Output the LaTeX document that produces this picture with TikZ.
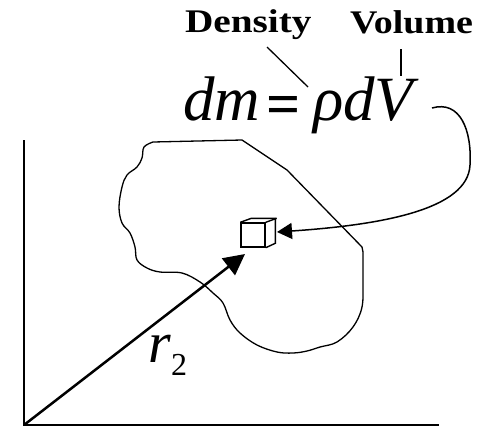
\documentclass[tikz,border=0pt]{standalone}
\usepackage{fontspec}
\usepackage{graphicx}
\setmainfont{Liberation Serif}
\usetikzlibrary{arrows.meta}
\tikzset{
  txt/.style={inner sep=0pt, outer sep=0pt, anchor=base west},
  axisline/.style={line width=2pt, black},
  blobline/.style={line width=1.3pt, black},
  leader/.style={line width=1.3pt, black},
  cubeline/.style={line width=1.4pt, black},
  vecarrow/.style={line width=2.5pt, -{Triangle[length=21pt,width=21pt]}},
  pointer/.style={line width=1.5pt, -{Triangle[length=15pt,width=16pt]}},
}
\begin{document}
\begin{tikzpicture}[x=1pt,y=-1pt]
\useasboundingbox (0,0) rectangle (486,426);
% labels
\node[txt] (dens) at (185,32) {\fontsize{33}{33}\selectfont\scalebox{1.19}[1]{\bfseries Density}};
\node[txt] (vol) at (350,33) {\fontsize{33}{33}\selectfont\scalebox{1.15}[1]{\bfseries Volume}};
% equation
\node[txt] (dm) at (183,120) {\fontsize{63}{63}\selectfont\itshape dm};
\node[inner sep=0pt, outer sep=0pt] (eq) at (284,110) {\fontsize{60}{60}\selectfont\bfseries =};
\node[txt] (rdv) at (313,120) {\fontsize{63}{63}\selectfont\itshape ρdV};
% leader lines
\coordinate (densA) at (267,47);
\coordinate (densB) at (308,87);
\coordinate (volA) at (401,49);
\coordinate (volB) at (401,76);
\draw[leader] (densA) -- (densB);
\draw[leader] (volA) -- (volB);
% axes
\coordinate (ytop) at (24,140);
\coordinate (O) at (24,425);
\coordinate (xend) at (439,425);
\draw[axisline] (ytop) -- (O) -- (xend);
% blob
\draw[blobline] (242,140) -- (287,170) -- (362,247) -- plot[smooth, tension=0.6] coordinates {
 (363,252) (363,280) (362,307) (353,327) (337,342) (320,347) (307,351) (293,353)
 (277,352) (257,345) (240,333) (230,320) (223,303) (213,293) (200,282) (182,273)
 (160,272) (147,268) (137,260) (135,247) (130,233) (122,223) (119,207) (122,187)
 (127,175) (137,167) (142,158) (144,147) (153,142)} -- cycle;
% cube
\node[draw, cubeline, minimum size=24pt, inner sep=0pt, fill=white] (cube) at (253,235) {};
\draw[cubeline] (cube.north west) -- ++(11,-4) -- ++(24,0) -- ++(0,25) -- (cube.south east);
\draw[cubeline] (cube.north east) -- ++(11,-4);
% position vector
\coordinate (rtip) at (245,254);
\draw[vecarrow] (O) -- (rtip);
\node[txt] (r) at (148,362) {\fontsize{58}{58}\selectfont\itshape r};
\node[txt] (two) at (171,375) {\fontsize{32}{32}\selectfont 2};
% pointer curve
\coordinate (cstart) at (432,108);
\coordinate (ctip) at (277,232);
\draw[pointer] (cstart) .. controls (460,100) and (472,130) .. (470,165)
  .. controls (468,210) and (380,225) .. (ctip);
\end{tikzpicture}
\end{document}
